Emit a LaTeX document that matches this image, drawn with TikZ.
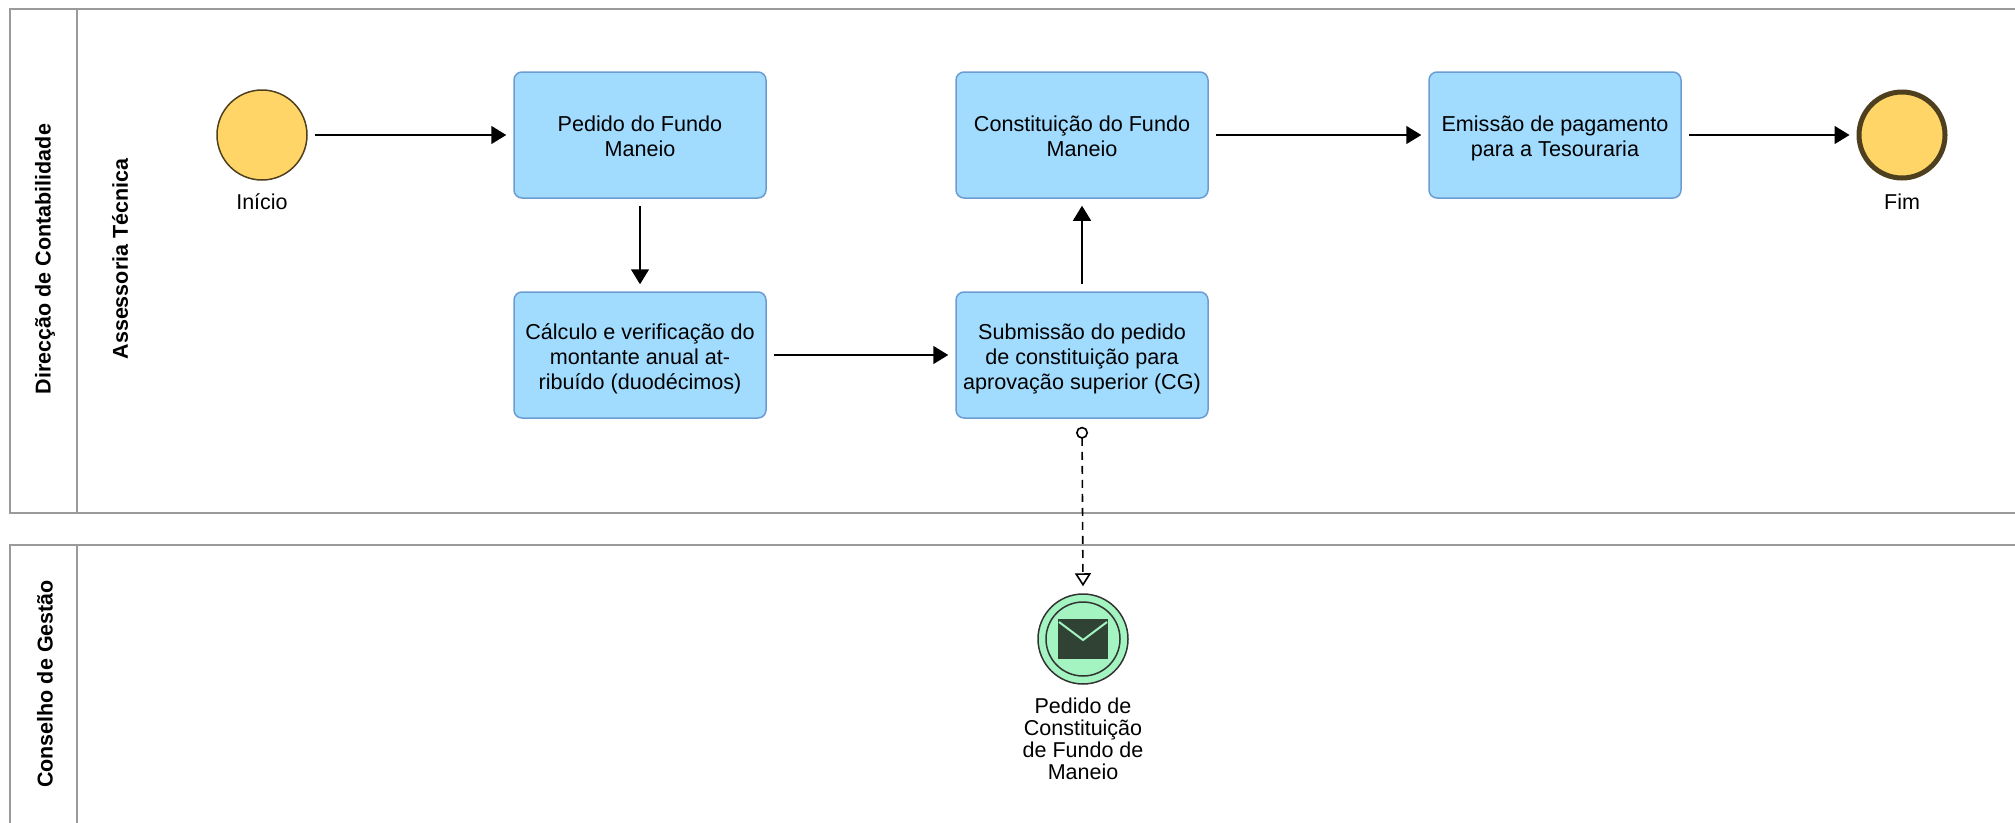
\documentclass[tikz,border=0pt]{standalone}
\usepackage{fontspec}
\setmainfont{Liberation Sans}
\usetikzlibrary{calc}
\usetikzlibrary{arrows.meta}
\definecolor{tarefa}{HTML}{A1DCFF}
\definecolor{tarefaborda}{HTML}{6C9CD2}
\definecolor{evento}{HTML}{FFD567}
\definecolor{eventoborda}{HTML}{4E3F1E}
\definecolor{msgverde}{HTML}{A3F4C1}
\definecolor{envelope}{HTML}{2F4234}
\definecolor{piscina}{HTML}{9A9A9A}

\begin{document}
\begin{tikzpicture}[x=1pt,y=-1pt,
 tarefa/.style={draw=tarefaborda,line width=1.5pt,fill=tarefa,rounded corners=8pt,minimum width=252pt,minimum height=126pt},
 textotarefa/.style={yshift=-5pt,align=center,font=\fontsize{21.6}{25}\selectfont,execute at begin node=\strut,execute at end node=\strut},
 rotulo/.style={align=center,font=\fontsize{21.5}{22}\selectfont},
 faixa/.style={rotate=90,font=\fontsize{21.5}{25}\selectfont\bfseries},
 fluxo/.style={line width=1.5pt,-{Triangle[length=15pt,width=18pt]},shorten <=7pt,shorten >=7pt},
 mensagem/.style={line width=1.6pt,dash pattern=on 8pt off 6pt,{Circle[open,length=12pt,width=12pt]}-{Triangle[open,length=13pt,width=16pt]}}]
 \useasboundingbox (0,0) rectangle (2015,822);
 \draw[piscina,line width=2pt] (2020,9)--(10,9)--(10,513)--(2020,513) (77,9)--(77,513);
 \draw[piscina,line width=2pt] (2020,545)--(10,545)--(10,830) (77,545)--(77,830);
 \node[faixa] (dc) at (45,259) {Direcção de Contabilidade};
 \node[faixa] (at) at (120,259) {Assessoria Técnica};
 \node[faixa] (cg) at (45,684) {Conselho de Gestão};

 \node[circle,draw=eventoborda,line width=1.5pt,fill=evento,minimum size=90pt] (inicio) at (262,135) {};
 \node[rotulo] (linicio) at (262,202) {Início};
 \node[tarefa,label={[textotarefa]center:Pedido do Fundo\\Maneio}] (t1) at (640,135) {};
 \node[tarefa,label={[textotarefa]center:Cálculo e verificação do\\montante anual at-\\ribuído (duodécimos)}] (t2) at (640,355) {};
 \node[tarefa,label={[textotarefa]center:Submissão do pedido\\de constituição para\\aprovação superior (CG)}] (t3) at (1082,355) {};
 \node[tarefa,label={[textotarefa]center:Constituição do Fundo\\Maneio}] (t4) at (1082,135) {};
 \node[tarefa,label={[textotarefa]center:Emissão de pagamento\\para a Tesouraria}] (t5) at (1555,135) {};
 \node[circle,draw=eventoborda,line width=5pt,fill=evento,minimum size=86pt] (fim) at (1902,135) {};
 \node[rotulo] (lfim) at (1902,202) {Fim};

 \node[circle,draw=black!80,line width=1.5pt,fill=msgverde,minimum size=90pt] (msg) at (1083,639) {};
 \draw[black!80,line width=1.5pt] (msg.center) circle (37);
 \fill[envelope] (1058,619) rectangle (1108,659);
 \draw[msgverde,line width=2pt] (1059,622)--(1083,640)--(1107,622);
 \node[rotulo] (lmsg) at (1083,739) {Pedido de\\Constituição\\de Fundo de\\Maneio};

 \draw[fluxo] (inicio)--(t1);
 \draw[fluxo] (t1)--(t2);
 \draw[fluxo] (t2)--(t3);
 \draw[fluxo] (t3)--(t4);
 \draw[fluxo] (t4)--(t5);
 \draw[fluxo] (t5)--(fim);
 \draw[mensagem] ([yshift=-8pt]t3.south)--([yshift=7pt]msg.north);
\end{tikzpicture}
\end{document}
